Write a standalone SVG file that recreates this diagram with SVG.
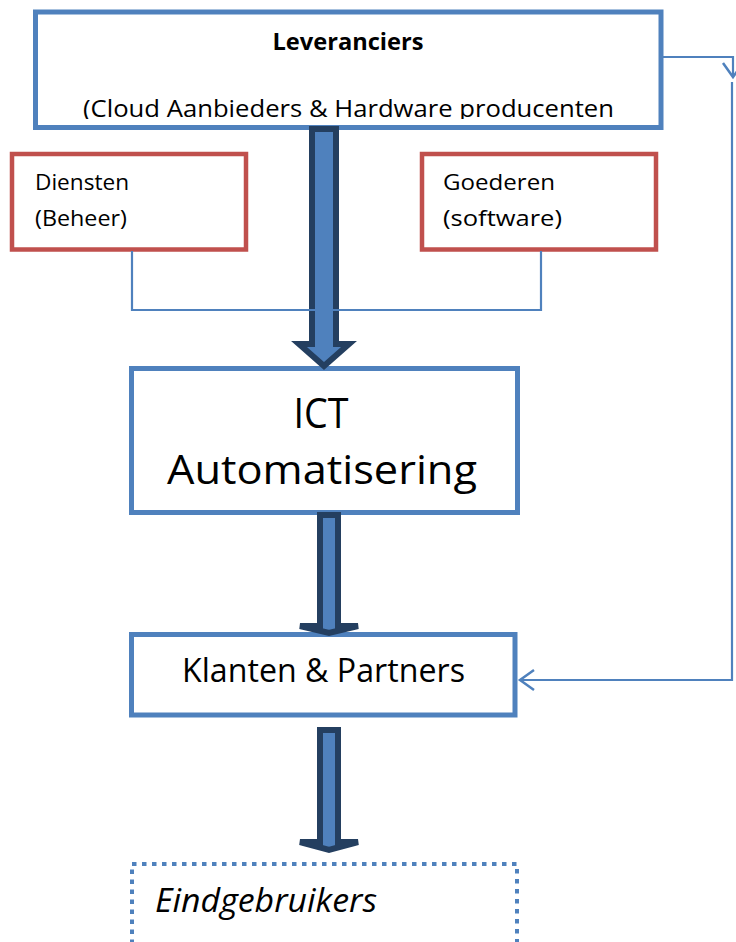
<svg xmlns="http://www.w3.org/2000/svg" width="736" height="942" viewBox="0 0 736 942">
<style>
.box{fill:#fff;stroke:#4F81BD;stroke-width:5}
.red{fill:#fff;stroke:#C0504D;stroke-width:4.5}
.dot{fill:#fff;stroke:#4F81BD;stroke-width:4;stroke-dasharray:4.5 5.5}
.blk{fill:#4F81BD;stroke:#243F60;stroke-width:6;stroke-linejoin:miter}
.thin{fill:none;stroke:#4F81BD;stroke-width:2.2}
text{font-family:"Open Sans","Noto Sans",sans-serif;fill:#000}
</style>
<defs>
<clipPath id="clipTop"><rect x="0" y="0" width="736" height="119"/></clipPath>
<marker id="open" markerUnits="userSpaceOnUse" markerWidth="30" markerHeight="30" refX="16" refY="11" orient="auto" viewBox="0 0 30 22">
<path d="M2,1 L16,11 L2,21" fill="none" stroke="#4F81BD" stroke-width="2.5"/>
</marker>
</defs>
<g id="leveranciers">
<rect class="box" x="35.5" y="12" width="625.5" height="115.5"/>
<text x="348" y="50" font-size="24" font-weight="bold" text-anchor="middle" textLength="151" lengthAdjust="spacingAndGlyphs">Leveranciers</text>
<text x="83" y="117" font-size="24" textLength="531" lengthAdjust="spacingAndGlyphs" clip-path="url(#clipTop)">(Cloud Aanbieders &amp; Hardware producenten</text>
</g>
<g id="diensten">
<rect class="red" x="12" y="154" width="234" height="95.5"/>
<text x="35" y="190" font-size="21" textLength="94" lengthAdjust="spacingAndGlyphs">Diensten</text>
<text x="35" y="226" font-size="21" textLength="92" lengthAdjust="spacingAndGlyphs">(Beheer)</text>
</g>
<g id="goederen">
<rect class="red" x="422" y="154" width="234" height="95.5"/>
<text x="443" y="190" font-size="21" textLength="112" lengthAdjust="spacingAndGlyphs">Goederen</text>
<text x="443" y="226" font-size="21" textLength="119" lengthAdjust="spacingAndGlyphs">(software)</text>
</g>
<g id="ict">
<rect class="box" x="131.5" y="368.5" width="386" height="144"/>
<text x="321" y="428" font-size="42" text-anchor="middle" textLength="55" lengthAdjust="spacingAndGlyphs">ICT</text>
<text x="322" y="484" font-size="41" text-anchor="middle" textLength="310" lengthAdjust="spacingAndGlyphs">Automatisering</text>
</g>
<g id="klanten">
<rect class="box" x="131.5" y="634.5" width="383.5" height="80.5"/>
<text x="323.5" y="682" font-size="33" text-anchor="middle" textLength="283" lengthAdjust="spacingAndGlyphs">Klanten &amp; Partners</text>
</g>
<g id="eindgebruikers">
<rect class="dot" x="132" y="864" width="385" height="120"/>
<text x="155" y="912" font-size="33" font-style="italic" textLength="222" lengthAdjust="spacingAndGlyphs">Eindgebruikers</text>
</g>
<g id="connectors">
<path class="blk" d="M312,129 H336 V344 H349 L324,366 L299,344 H312 Z"/>
<path class="blk" d="M320,515 H338 V626 H358 L329,633 L300,626 H320 Z"/>
<path class="blk" d="M320,730 H338 V842 H358 L329,850 L300,842 H320 Z"/>
<path class="thin" d="M132,251 V310 H541 V251"/>
<path class="thin" d="M663,57 H733 V77" marker-end="url(#open)"/>
<path class="thin" d="M732,82 V680 H520" marker-end="url(#open)"/>
</g>
</svg>
